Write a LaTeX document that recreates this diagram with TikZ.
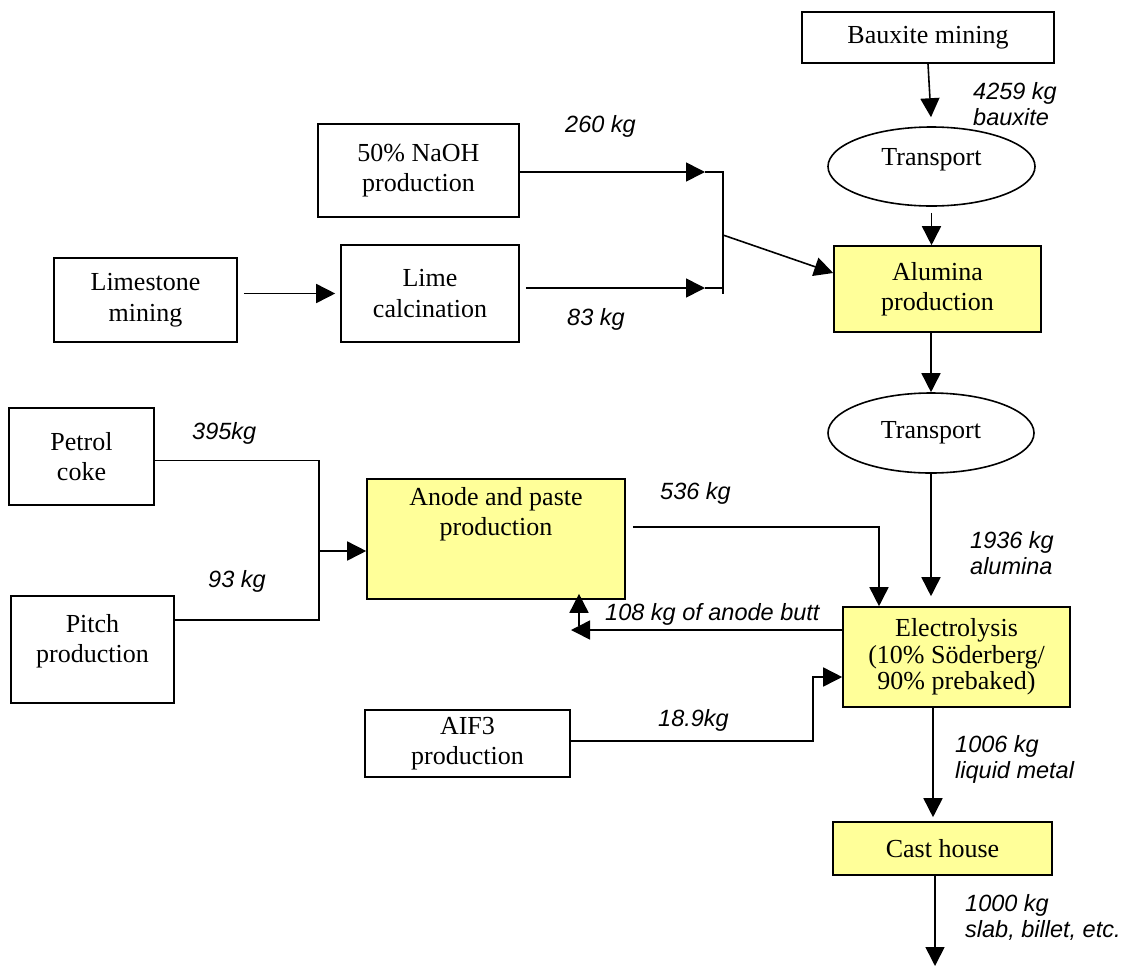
\documentclass[tikz,border=0pt]{standalone}
\usepackage{fontspec}
\setmainfont{Liberation Serif}
\newfontfamily\labelfont{Liberation Sans}
\usetikzlibrary{arrows.meta,shapes.geometric}
\definecolor{procyellow}{HTML}{FFFF99}

\begin{document}
\begin{tikzpicture}[x=1pt,y=-1pt,
  box/.style={draw, line width=1.6pt, rectangle, align=center, inner sep=2pt,
    font=\fontsize{26}{30.5}\selectfont},
  ybox/.style={box, fill=procyellow},
  oval/.style={draw, line width=1.6pt, ellipse, inner sep=0pt,
    font=\fontsize{26}{30.5}\selectfont},
  boxtext/.style={align=center, inner sep=0pt, font=\fontsize{26}{30.5}\selectfont},
  wire/.style={line width=1.6pt},
  flow/.style={wire, -{Triangle[length=19pt,width=19pt]}},
  qty/.style={anchor=base west, align=left, inner sep=0pt,
    font=\labelfont\itshape\fontsize{23.5}{26}\selectfont}
]
\useasboundingbox (0,0) rectangle (1127,967);

% process boxes
\node[box, minimum width=252pt, minimum height=51pt] (bauxite) at (928,37.5) {Bauxite mining};
\node[oval, minimum width=207pt, minimum height=79pt] (transport1) at (931.5,166.5) {};
\node[boxtext, anchor=base] (transport1text) at (931.5,165) {Transport};
\node[box, minimum width=201pt, minimum height=93pt] (naoh) at (418.5,170.5) {50\% NaOH\\production};
\node[box, minimum width=183pt, minimum height=84pt] (limestone) at (145.5,300) {Limestone\\mining};
\node[box, minimum width=178pt, minimum height=97pt] (lime) at (430,293.5) {Lime\\calcination};
\node[ybox, minimum width=207pt, minimum height=86pt] (alumina) at (937.5,289) {Alumina\\production};
\node[oval, minimum width=206pt, minimum height=80pt] (transport2) at (931,433) {Transport};
\node[box, minimum width=145pt, minimum height=97pt] (petrol) at (81.5,456.5) {Petrol\\coke};
\node[box, minimum width=163pt, minimum height=107pt] (pitch) at (92.5,649.5) {};
\node[boxtext] (pitchtext) at (92.5,641.4) {Pitch\\production};
\node[ybox, minimum width=258pt, minimum height=120pt] (anode) at (496,539) {};
\node[boxtext, anchor=north] (anodetext) at (496,487.2) {Anode and paste\\production};
\node[ybox, minimum width=227pt, minimum height=100pt, font=\fontsize{26}{26.5}\selectfont]
  (electrolysis) at (956.5,657) {Electrolysis\\(10\% Söderberg/\\90\% prebaked)};
\node[box, minimum width=205pt, minimum height=67pt] (alf3) at (467.5,743.5) {AIF3\\production};
\node[ybox, minimum width=219pt, minimum height=53pt] (casthouse) at (942.5,848.5) {Cast house};

% junction points of the flow lines
\coordinate (naohtip) at (705,172);
\coordinate (jtop) at (723,172);
\coordinate (jbot) at (723,294);
\coordinate (limetip) at (705,288);
\coordinate (jlow) at (723,288);
\coordinate (jmid) at (723,235);
\coordinate (alin) at (834,273);
\coordinate (acorner) at (879,527);
\coordinate (butttip) at (571,630);
\coordinate (buttup) at (579,626);
\coordinate (fbend) at (813,741);
\coordinate (ftop) at (813,677);
\coordinate (metal) at (933,707);
\coordinate (product) at (935,966);
\coordinate (ptop) at (319,460.5);
\coordinate (pbot) at (319,620);
\coordinate (pmid) at (319,551);

% alumina route
\draw[flow, shorten >=9pt] (bauxite.south) -- (transport1.north);
\draw[flow, shorten <=6pt] (transport1.south) -- (transport1.south |- alumina.north);
\draw[flow] (naoh.east |- naohtip) -- (naohtip);
\draw[wire] (naohtip) -- (jtop) -- (jbot);
\draw[flow, shorten <=6pt, shorten >=5pt] (limestone.east |- lime.west) -- (lime.west);
\draw[flow, shorten <=6pt] (lime.east |- limetip) -- (limetip);
\draw[wire] (limetip) -- (jlow);
\draw[flow] (jmid) -- (alumina.west |- alin);
\draw[flow] (alumina.south -| transport2.north) -- (transport2.north);
\draw[flow, shorten >=10pt] (transport2.south) -- (transport2.south |- electrolysis.north);

% anode route
\draw[wire] (petrol.east |- ptop) -- (ptop) -- (pbot) -- (pitch.east |- pbot);
\draw[flow] (pmid) -- (anode.west |- pmid);
\draw[flow, shorten <=7pt] (anode.east |- acorner) -- (acorner) -- (acorner |- electrolysis.north);
\draw[flow] (electrolysis.west |- butttip) -- (butttip);
\draw[flow, shorten >=-6pt] (buttup) -- (anode.south -| buttup);

% fluoride and metal
\draw[flow] (alf3.east |- fbend) -- (fbend) -- (ftop) -- (electrolysis.west |- ftop);
\draw[flow, shorten >=4pt] (electrolysis.south -| metal) -- (casthouse.north -| metal);
\draw[flow] (casthouse.south -| product) -- (product);

% quantities (two-line labels are placed by the baseline of their last line)
\node[qty] (m260) at (565,132) {260 kg};
\node[qty] (m83) at (567,325) {83 kg};
\node[qty] (m4259) at (973,125) {4259 kg\\bauxite};
\node[qty] (m1936) at (970,574) {1936 kg\\alumina};
\node[qty] (m536) at (660,499) {536 kg};
\node[qty] (m395) at (192,439) {395kg};
\node[qty] (m93) at (208,587) {93 kg};
\node[qty] (m108) at (605,620) {108 kg of anode butt};
\node[qty] (m189) at (658,726) {18.9kg};
\node[qty] (m1006) at (955,778) {1006 kg\\liquid metal};
\node[qty] (m1000) at (965,937) {1000 kg\\slab, billet, etc.};
\end{tikzpicture}
\end{document}
